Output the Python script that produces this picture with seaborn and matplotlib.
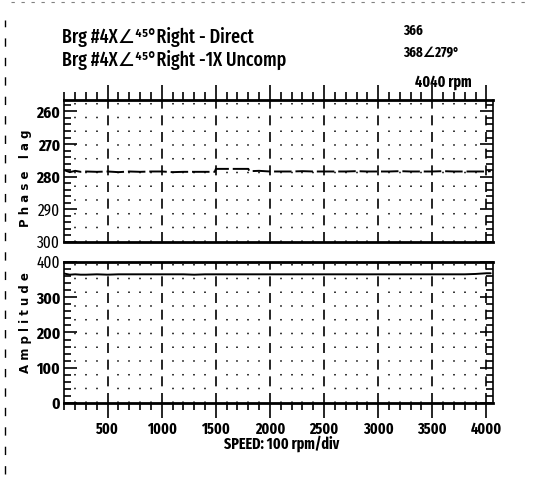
import numpy as np
import pandas as pd
from matplotlib import pyplot as plt
from matplotlib.lines import Line2D
from matplotlib.ticker import MultipleLocator
import seaborn as sns

# data
speed = [100, 150, 200, 250, 300, 400, 500, 600, 700, 800, 900, 1000, 1100, 1200, 1300,
         1400, 1490, 1500, 1600, 1700, 1800, 1810, 1900, 2000, 2100, 2200, 2300, 2400,
         2500, 2600, 2700, 2800, 2900, 3000, 3100, 3200, 3300, 3400, 3500, 3600, 3700,
         3800, 3900, 4000, 4040]
phase = [278.0, 278.6, 278.2, 278.5, 278.4, 278.5, 278.4, 278.6, 278.4, 278.5, 278.4, 278.4,
         278.6, 278.5, 278.5, 278.5, 278.5, 277.6, 277.6, 277.6, 277.6, 278.3, 278.2, 278.4,
         278.4, 278.4, 278.3, 278.4, 278.4, 278.4, 278.4, 278.3, 278.4, 278.4, 278.4, 278.3,
         278.4, 278.4, 278.4, 278.3, 278.4, 278.4, 278.4, 278.4, 278.3]
amp = [367, 364, 365, 364, 364, 365, 364, 365, 365, 365, 365, 365, 365, 365, 364, 365, 365,
       365, 365, 365, 365, 365, 365, 365, 365, 365, 365, 365, 365, 365, 365, 365, 365,
       365, 365, 365, 365, 365, 365, 365, 365, 365, 366, 368, 368]

df = pd.DataFrame({'speed': speed, 'phase': phase, 'amp': amp})

sns.set_style('ticks')
plt.rcParams['font.family'] = ['Fira Sans Extra Condensed', 'DejaVu Sans']
plt.rcParams['text.color'] = 'black'
plt.rcParams['xtick.color'] = 'black'
plt.rcParams['ytick.color'] = 'black'
plt.rcParams['axes.edgecolor'] = 'black'

fig = plt.figure(figsize=(5.41, 4.99), dpi=100)
ax1 = fig.add_axes([0.119, 0.515, 0.792, 0.2846])
ax2 = fig.add_axes([0.119, 0.1924, 0.792, 0.2826])

sns.lineplot(data=df, x='speed', y='phase', ax=ax1, color='black', lw=1.4,
             linestyle=(0, (9, 2)))
sns.lineplot(data=df, x='speed', y='amp', ax=ax2, color='black', lw=1.4)

for ax in (ax1, ax2):
    ax.set_xlim(100, 4060)
    ax.xaxis.set_major_locator(MultipleLocator(500))
    ax.xaxis.set_minor_locator(MultipleLocator(100))
    for x in range(500, 4001, 500):
        ax.axvline(x, color='black', lw=1.2, linestyle=(0, (6, 4)), zorder=1)
    for x in range(200, 4001, 100):
        if x % 500:
            ax.axvline(x, color='black', lw=1.1, linestyle=(0, (1, 8)), zorder=1)
    for s in ax.spines.values():
        s.set_linewidth(1.2)
    ax.spines['top'].set_linewidth(2)
    ax.spines['bottom'].set_linewidth(2)
    ax.set_xlabel('')
    ax.set_ylabel('')
    ax.tick_params(axis='y', which='both', direction='in', left=True, right=True,
                   labelsize=12, width=1.2, pad=3)
    ax.tick_params(axis='y', which='major', length=9.5)
    ax.tick_params(axis='y', which='minor', length=5)
    for lab in ax.get_yticklabels():
        lab.set_fontweight('bold')

ax1.set_ylim(300, 256.5)
ax1.yaxis.set_major_locator(MultipleLocator(10))
ax1.yaxis.set_minor_locator(MultipleLocator(2))
ax1.tick_params(axis='x', which='both', direction='out', top=True, bottom=False,
                labelbottom=False, width=1.2)
ax1.tick_params(axis='x', which='major', length=11)
ax1.tick_params(axis='x', which='minor', length=6)

ax2.set_ylim(0, 400)
ax2.yaxis.set_major_locator(MultipleLocator(100))
ax2.yaxis.set_minor_locator(MultipleLocator(20))
ax2.tick_params(axis='x', which='both', direction='out', top=False, bottom=True,
                labelsize=11, width=1.2, pad=2)
ax2.tick_params(axis='x', which='major', length=11)
ax2.tick_params(axis='x', which='minor', length=5)
for lab in ax2.get_xticklabels():
    lab.set_fontweight('bold')

fig.text(0.047, 0.643, 'P h a s e   l a g', rotation=90, va='center', ha='center',
         fontsize=8.5, fontweight='bold', family='DejaVu Sans')
fig.text(0.047, 0.354, 'A m p l i t u d e', rotation=90, va='center', ha='center',
         fontsize=8.5, fontweight='bold', family='DejaVu Sans')
fig.text(0.52, 0.11, 'SPEED: 100 rpm/div', ha='center', va='center', fontsize=11,
         fontweight='bold')

fig.text(0.115, 0.926, 'Brg #4X∠⁴⁵°Right - Direct', va='center', fontsize=14,
         fontweight='medium')
fig.text(0.115, 0.879, 'Brg #4X∠⁴⁵°Right -1X Uncomp', va='center', fontsize=14,
         fontweight='medium')
fig.text(0.745, 0.939, '366', va='center', fontsize=10, fontweight='bold')
fig.text(0.745, 0.895, '368∠279°', va='center', fontsize=10, fontweight='bold')
fig.text(0.768, 0.836, '4040 rpm', va='center', fontsize=11, fontweight='bold')

# scan border marks
fig.add_artist(Line2D([0.009, 0.009], [0.05, 0.96], transform=fig.transFigure,
                      color='black', lw=1, linestyle=(0, (6, 8))))
fig.add_artist(Line2D([0.02, 0.98], [0.995, 0.995], transform=fig.transFigure,
                      color='gray', lw=0.8, linestyle=(0, (3, 6))))

fig.savefig('out.png', dpi=100)
